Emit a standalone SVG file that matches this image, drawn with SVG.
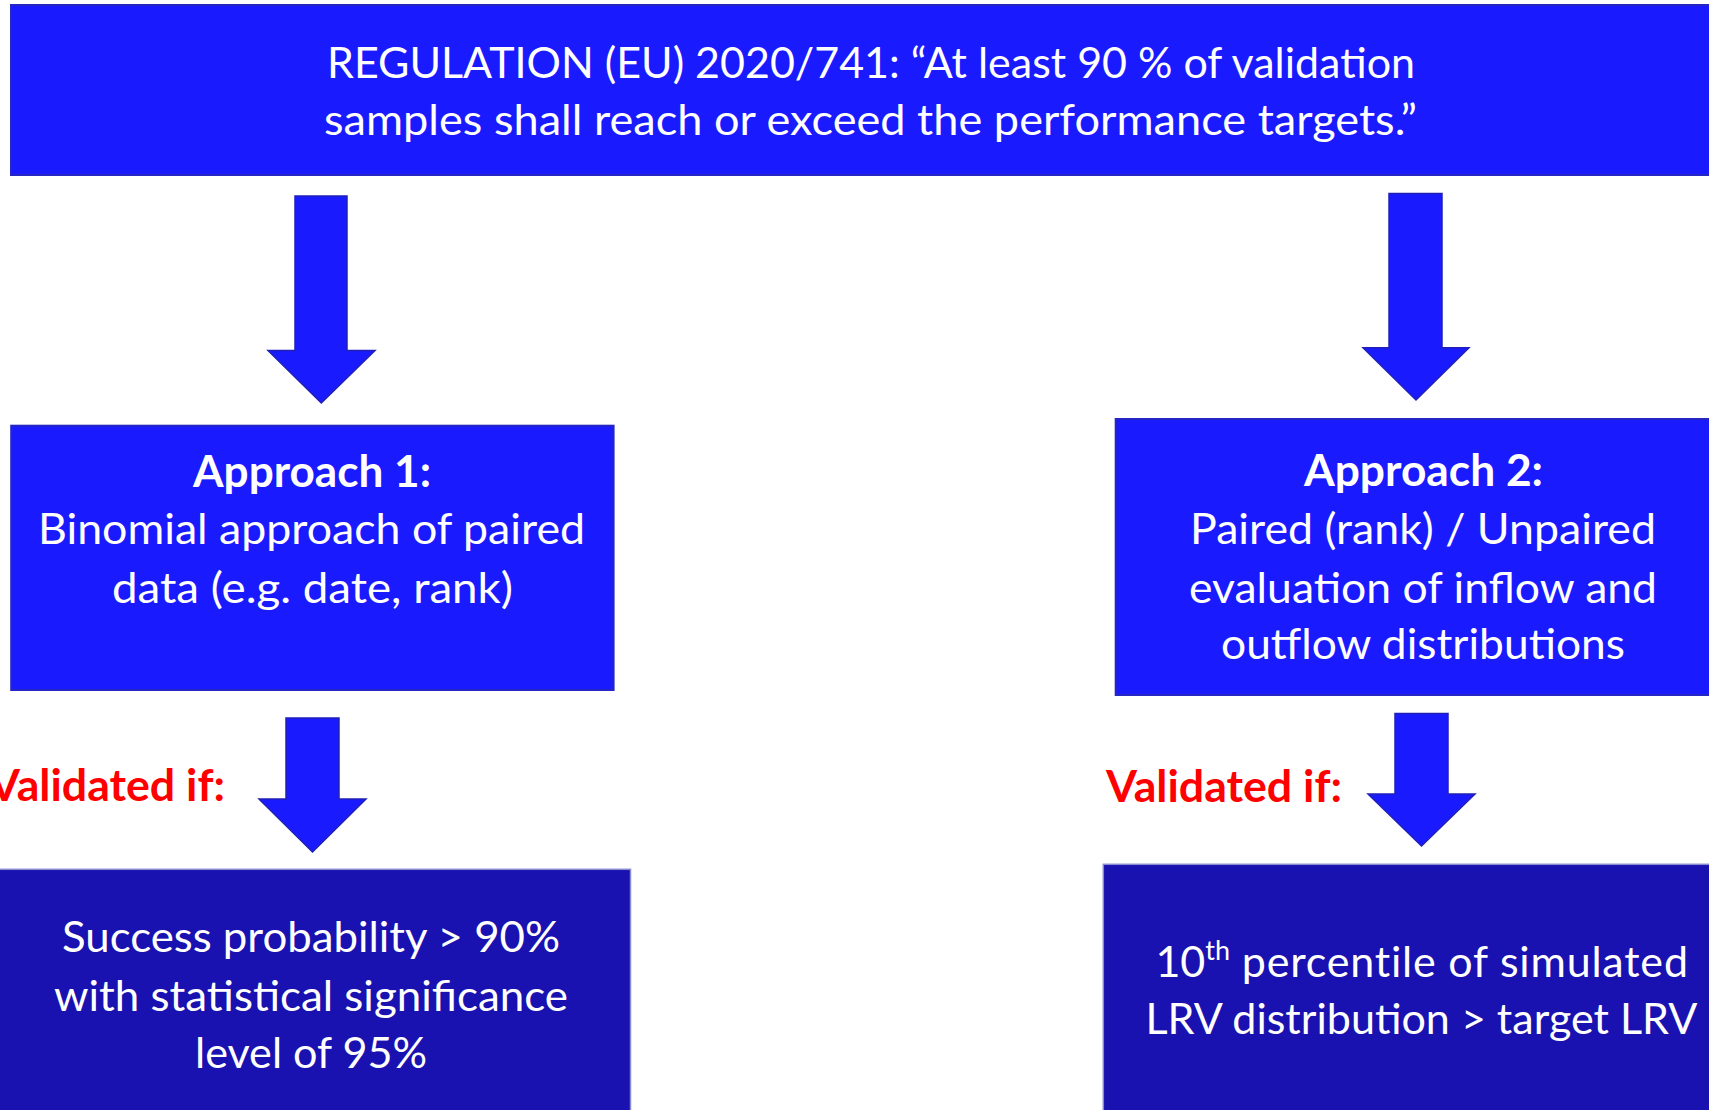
<svg xmlns="http://www.w3.org/2000/svg" width="1709" height="1110" viewBox="0 0 1709 1110">
  <style>
    .box { fill: #1a1aff; stroke: #2626c4; stroke-width: 2; }
    .box-dark { fill: #1a12b0; stroke: #8a8ad0; stroke-width: 1.5; }
    .arrow { fill: #1a1aff; stroke: #2020b8; stroke-width: 1.5; stroke-linejoin: miter; }
    .t { font-family: Lato, "Open Sans", "Liberation Sans", sans-serif; font-size: 43px; fill: #ffffff; }
    .b { font-weight: bold; }
    .red { font-family: Lato, "Open Sans", "Liberation Sans", sans-serif; font-size: 43px; font-weight: bold; fill: #ff0000; }
  </style>
  <rect width="1709" height="1110" fill="#ffffff"/>

  <!-- block arrows between the boxes -->
  <g id="connectors">
    <polygon class="arrow" points="295,196 347,196 347,350.5 375,350.5 321.3,403 268,350.5 295,350.5"/>
    <polygon class="arrow" points="1389,193.5 1442,193.5 1442,347.7 1469,347.7 1416,400 1363,347.7 1389,347.7"/>
    <polygon class="arrow" points="286,718 339,718 339,799 366,799 312.5,852 259,799 286,799"/>
    <polygon class="arrow" points="1395,713.5 1448,713.5 1448,794 1475,794 1421.5,846 1368,794 1395,794"/>
  </g>

  <g id="regulation">
    <rect class="box" x="11" y="5" width="1712" height="170"/>
    <text class="t" x="327" y="78" textLength="1088" lengthAdjust="spacingAndGlyphs">REGULATION (EU) 2020/741: “At least 90 % of validation</text>
    <text class="t" x="324" y="135" textLength="1093" lengthAdjust="spacingAndGlyphs">samples shall reach or exceed the performance targets.”</text>
  </g>

  <g id="approach1">
    <rect class="box" x="11.2" y="425.7" width="602.4" height="264.3"/>
    <text class="t b" x="193" y="487" textLength="238" lengthAdjust="spacingAndGlyphs">Approach 1:</text>
    <text class="t" x="38" y="544" textLength="547" lengthAdjust="spacingAndGlyphs">Binomial approach of paired</text>
    <text class="t" x="112" y="602.7" textLength="401" lengthAdjust="spacingAndGlyphs">data (e.g. date, rank)</text>
  </g>

  <g id="approach2">
    <rect class="box" x="1115.7" y="419" width="600" height="276"/>
    <text class="t b" x="1304" y="486" textLength="239" lengthAdjust="spacingAndGlyphs">Approach 2:</text>
    <text class="t" x="1190" y="544" textLength="466" lengthAdjust="spacingAndGlyphs">Paired (rank) / Unpaired</text>
    <text class="t" x="1189" y="602.7" textLength="468" lengthAdjust="spacingAndGlyphs">evaluation of inflow and</text>
    <text class="t" x="1221" y="659" textLength="404" lengthAdjust="spacingAndGlyphs">outflow distributions</text>
  </g>

  <g id="labels">
    <text class="red" x="-11" y="801" textLength="236" lengthAdjust="spacingAndGlyphs">Validated if:</text>
    <text class="red" x="1106" y="801.5" textLength="236" lengthAdjust="spacingAndGlyphs">Validated if:</text>
  </g>

  <g id="criterion1">
    <rect class="box-dark" x="-5" y="869.3" width="635.5" height="250"/>
    <text class="t" x="62" y="951.7" textLength="498" lengthAdjust="spacingAndGlyphs">Success probability &gt; 90%</text>
    <text class="t" x="54" y="1010.7" textLength="514" lengthAdjust="spacingAndGlyphs">with statistical significance</text>
    <text class="t" x="195" y="1067.7" textLength="232" lengthAdjust="spacingAndGlyphs">level of 95%</text>
  </g>

  <g id="criterion2">
    <rect class="box-dark" x="1103.3" y="864.3" width="620" height="250"/>
    <text class="t" x="1155.4" y="976.7">10<tspan font-size="27" dy="-17">th</tspan><tspan dy="17" letter-spacing="0.8"> percentile of simulated</tspan></text>
    <text class="t" x="1145.4" y="1034.3" textLength="552" lengthAdjust="spacingAndGlyphs">LRV distribution &gt; target LRV</text>
  </g>
</svg>
